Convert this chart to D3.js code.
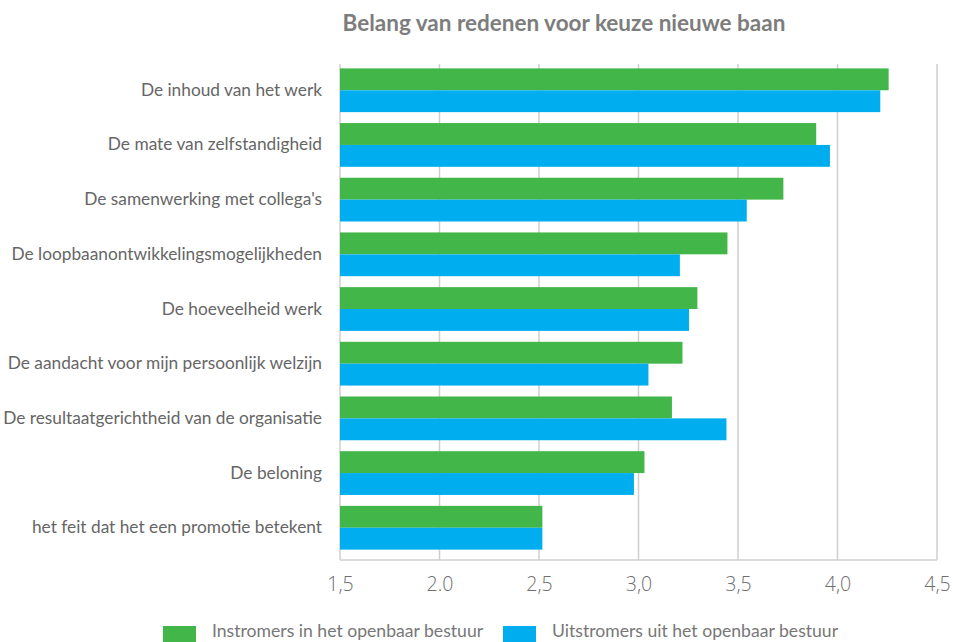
<!DOCTYPE html>
<html>
<head>
<meta charset="utf-8">
<script src="https://cdn.jsdelivr.net/npm/d3@7"></script>
<style>
  html, body { margin: 0; padding: 0; background: #fff; }
  svg { display: block; }
</style>
</head>
<body>
<svg id="chart" width="953" height="642"></svg>
<script>
// Reasons for choosing a new job, average importance per group
const categories = [
  "De inhoud van het werk",
  "De mate van zelfstandigheid",
  "De samenwerking met collega's",
  "De loopbaanontwikkelingsmogelijkheden",
  "De hoeveelheid werk",
  "De aandacht voor mijn persoonlijk welzijn",
  "De resultaatgerichtheid van de organisatie",
  "De beloning",
  "het feit dat het een promotie betekent"
];
const seriesNames = [
  "Instromers in het openbaar bestuur",
  "Uitstromers uit het openbaar bestuur"
];
const instromers = [4.257, 3.893, 3.728, 3.447, 3.296, 3.221, 3.168, 3.030, 2.517];
const uitstromers = [4.215, 3.962, 3.544, 3.208, 3.254, 3.050, 3.442, 2.977, 2.517];
const tickValues = [1.5, 2.0, 2.5, 3.0, 3.5, 4.0, 4.5];
const tickLabels = ["1,5", "2.0", "2,5", "3,0", "3,5", "4,0", "4,5"];
const colors = ["#43b649", "#00aeef"];

const svg = d3.select("#chart");
const plotLeft = 340, plotRight = 937, plotTop = 64, plotBottom = 560;

const x = d3.scaleLinear().domain([1.5, 4.5]).range([plotLeft, plotRight]);
const y = d3.scaleBand().domain(categories).range([plotTop, plotBottom - 6])
  .paddingInner(0.2).paddingOuter(0.08);
const sub = d3.scaleBand().domain(seriesNames).range([0, y.bandwidth()]);

// Title
svg.append("text")
  .attr("x", 564).attr("y", 31)
  .attr("text-anchor", "middle")
  .attr("font-family", "Lato, 'Open Sans', sans-serif")
  .attr("font-weight", "bold")
  .attr("font-size", 22.5)
  .attr("fill", "#7d7d7d")
  .text("Belang van redenen voor keuze nieuwe baan");

// Vertical grid lines
svg.append("g").selectAll("line").data(tickValues).join("line")
  .attr("x1", d => x(d)).attr("x2", d => x(d))
  .attr("y1", plotTop).attr("y2", plotBottom)
  .attr("stroke", "#cfcfcf").attr("stroke-width", 1.5);

// Bars
const rows = categories.map((c, i) => ({ c, vals: [instromers[i], uitstromers[i]] }));
const groups = svg.append("g").selectAll("g").data(rows).join("g")
  .attr("transform", d => `translate(0,${y(d.c)})`);
groups.selectAll("rect").data(d => d.vals.map((v, j) => ({ v, s: seriesNames[j], j })))
  .join("rect")
  .attr("x", x(1.5))
  .attr("y", d => sub(d.s))
  .attr("width", d => x(d.v) - x(1.5))
  .attr("height", sub.bandwidth())
  .attr("fill", d => colors[d.j]);

// Axis baseline
svg.append("line")
  .attr("x1", plotLeft).attr("x2", plotRight).attr("y1", plotBottom).attr("y2", plotBottom)
  .attr("stroke", "#cfcfcf").attr("stroke-width", 1.5);

// X axis tick labels
const xAxis = d3.axisBottom(x).tickValues(tickValues)
  .tickFormat((d, i) => tickLabels[i]).tickSize(0).tickPadding(17);
const gx = svg.append("g").attr("transform", `translate(0,${plotBottom})`).call(xAxis);
gx.select(".domain").remove();
gx.selectAll("text")
  .attr("font-family", "'Open Sans', sans-serif")
  .attr("font-weight", 300)
  .attr("font-size", 19.5)
  .attr("fill", "#6e6e6e");

// Category labels
const yAxis = d3.axisLeft(y).tickSize(0).tickPadding(18);
const gy = svg.append("g").attr("transform", `translate(${plotLeft},0)`).call(yAxis);
gy.select(".domain").remove();
gy.selectAll("text")
  .attr("font-family", "Lato, 'Open Sans', sans-serif")
  .attr("font-size", 17.3)
  .attr("fill", "#666");

// Legend
const legend = svg.append("g");
const legendX = [163, 503];
seriesNames.forEach((name, i) => {
  legend.append("rect")
    .attr("x", legendX[i]).attr("y", 626)
    .attr("width", 33).attr("height", 16)
    .attr("fill", colors[i]);
  legend.append("text")
    .attr("x", legendX[i] + 49).attr("y", 637)
    .attr("font-family", "Lato, 'Open Sans', sans-serif")
    .attr("font-size", 17.6)
    .attr("fill", "#777")
    .text(name);
});
</script>
</body>
</html>
